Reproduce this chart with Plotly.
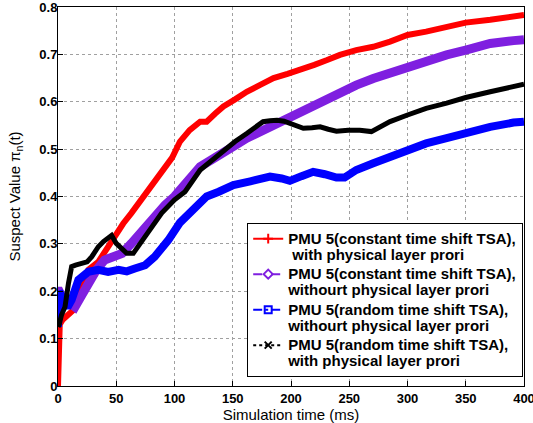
import plotly.graph_objects as go

# ---- data ----
red_t = [0, 0.5, 1.5, 4, 8, 13, 19, 26, 34.6, 43, 50, 56, 63, 70, 77.5, 85, 92, 98, 104.7, 113,
         122, 127.6, 135, 142, 152, 162, 174, 185, 197, 208, 220, 231, 242, 256, 270.6, 285, 300,
         316, 333.6, 350, 371, 391, 400]
red_v = [0, 0.06, 0.13, 0.14, 0.15, 0.16, 0.20, 0.245, 0.262, 0.294, 0.322, 0.343, 0.365, 0.388,
         0.414, 0.44, 0.463, 0.482, 0.516, 0.54, 0.558, 0.558, 0.575, 0.590, 0.605, 0.621, 0.636,
         0.650, 0.659, 0.667, 0.678, 0.688, 0.699, 0.709, 0.716, 0.727, 0.741, 0.748, 0.759, 0.767,
         0.773, 0.781, 0.783]

purple_t = [0, 1, 3, 7, 11, 14.6, 20, 26, 33, 40, 45, 49, 55, 63, 70, 77.5, 85, 92, 100, 109,
            122, 132, 142, 152, 162, 172, 182, 199, 219, 239, 256, 270.6, 285, 300, 316, 333.6,
            350, 371, 391, 400]
purple_v = [0.2, 0.2, 0.19, 0.18, 0.17, 0.167, 0.19, 0.217, 0.245, 0.266, 0.27, 0.273, 0.28,
            0.301, 0.322, 0.343, 0.362, 0.382, 0.40, 0.428, 0.463, 0.478, 0.491, 0.508, 0.523,
            0.535, 0.547, 0.569, 0.593, 0.614, 0.635, 0.649, 0.660, 0.674, 0.688, 0.699, 0.709,
            0.723, 0.729, 0.731]

blue_t = [0, 0.5, 1, 3, 6, 9, 11.7, 17.5, 26, 34.6, 43, 52, 59, 66, 74.7, 83, 94.7, 104.7, 115,
          122, 127.6, 138, 150.5, 165, 182, 192, 199, 209, 219, 229, 239, 246, 256, 270.6, 285,
          300, 316, 333.6, 350, 371, 391, 400]
blue_v = [0.125, 0.2, 0.2, 0.19, 0.17, 0.17, 0.182, 0.224, 0.241, 0.245, 0.241, 0.245, 0.242,
          0.248, 0.255, 0.273, 0.308, 0.345, 0.37, 0.385, 0.40, 0.41, 0.424, 0.432, 0.442, 0.438,
          0.433, 0.443, 0.452, 0.447, 0.440, 0.440, 0.456, 0.470, 0.484, 0.498, 0.512, 0.523,
          0.535, 0.547, 0.556, 0.558]

black_t = [0, 1, 3, 6, 9, 11.7, 15, 20, 25, 29, 34.6, 39, 43, 46, 50, 55, 59, 64.6, 70, 74.7,
           82, 89, 100, 109, 122, 132, 142, 152, 162, 169, 176, 182, 188, 194, 199, 205, 210.6,
           218, 225, 232, 239, 249, 259, 269, 277, 285, 300, 316, 333.6, 350, 371, 391, 400]
black_v = [0.125, 0.13, 0.15, 0.167, 0.217, 0.252, 0.255, 0.259, 0.262, 0.273, 0.294, 0.305,
           0.312, 0.318, 0.301, 0.29, 0.280, 0.280, 0.298, 0.315, 0.34, 0.365, 0.393, 0.41,
           0.456, 0.477, 0.498, 0.516, 0.533, 0.546, 0.558, 0.560, 0.561, 0.559, 0.555, 0.549,
           0.544, 0.545, 0.547, 0.542, 0.538, 0.540, 0.540, 0.537, 0.548, 0.558, 0.572, 0.586,
           0.597, 0.609, 0.621, 0.632, 0.637]

legend_lines = [
    ("PMU 5(constant time shift TSA),", " with physical layer prori"),
    ("PMU 5(constant time shift TSA),", "withourt physical layer prori"),
    ("PMU 5(random time shift TSA),", "withourt physical layer prori"),
    ("PMU 5(random time shift TSA),", "with physical layer prori"),
]
x_ticks = [0, 50, 100, 150, 200, 250, 300, 350, 400]
y_ticks = [0, 0.1, 0.2, 0.3, 0.4, 0.5, 0.6, 0.7, 0.8]

FONT = "Liberation Sans, Arial, Helvetica, sans-serif"


def legend_label(l1, l2):
    sp = '<span style="font-size:15px">'
    return f"{sp}{l1}</span><br>{sp}{l2}</span>"


series = [
    (red_t, red_v, "#ff0000", 6, "solid", "cross-thin-open"),
    (purple_t, purple_v, "#7f1fe0", 9, "dash", "diamond-open"),
    (blue_t, blue_v, "#0000ff", 8, "dashdot", "square-open"),
    (black_t, black_v, "#000000", 5, "dot", "x-thin-open"),
]

fig = go.Figure()
for (t, v, col, w, dash, sym) in series:
    fig.add_trace(go.Scatter(
        x=t, y=v, mode="lines", showlegend=False,
        line=dict(color=col, width=w, shape="linear"),
        hoverinfo="skip",
    ))
for (t, v, col, w, dash, sym), (l1, l2) in zip(series, legend_lines):
    fig.add_trace(go.Scatter(
        x=[None], y=[None], mode="lines+markers", name=legend_label(l1, l2),
        line=dict(color=col, width=2, dash=dash),
        marker=dict(symbol=sym, size=7, color=col, line=dict(color=col, width=2)),
    ))

axis_common = dict(
    showline=True, linecolor="black", linewidth=1, mirror=True,
    ticks="inside", ticklen=5, tickcolor="black",
    showgrid=True, gridcolor="#a0a0a0", griddash="dot", gridwidth=1,
    zeroline=False, ticklabeloverflow="allow", automargin=False,
    tickfont=dict(family=FONT, size=13, color="black", weight="bold"),
)

fig.update_layout(
    width=533, height=423,
    margin=dict(l=58, r=9, t=7, b=37, autoexpand=False),
    paper_bgcolor="white", plot_bgcolor="white",
    font=dict(family=FONT, color="black"),
    xaxis=dict(range=[0, 400], tickvals=x_ticks, ticktext=[str(v) for v in x_ticks],
               title=dict(text="Simulation time (ms)", font=dict(family=FONT, size=15)),
               **axis_common),
    yaxis=dict(range=[0, 0.8], tickvals=y_ticks,
               ticktext=["0" if v == 0 else f"{v:.1f}" for v in y_ticks],
               ticklabelstandoff=-3,
               title=dict(text="Suspect Value \u03c0<sub>n</sub>(t)", font=dict(family=FONT, size=15)),
               **axis_common),
    legend=dict(
        x=0.406, y=0.43, xanchor="left", yanchor="top",
        bgcolor="white", bordercolor="black", borderwidth=1,
        font=dict(family=FONT, size=12.5, color="black", weight="bold"),
        tracegroupgap=0, itemwidth=30, valign="top",
    ),
    showlegend=True,
)

fig.write_html("out.html")
